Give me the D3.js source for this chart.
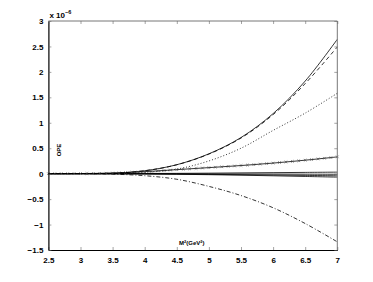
<!DOCTYPE html>
<html lang="en">
<head>
    <meta charset="UTF-8">
    <title>OPE vs M2</title>
    <script src="https://cdn.jsdelivr.net/npm/d3@7/dist/d3.min.js"></script>
    <style>
        body { margin: 0; background: #fff; }
        svg { display: block; font-family: "Liberation Sans", Arial, sans-serif; }
        svg .tick-label { font-size: 8px; font-weight: bold; fill: #000; }
        svg .curve { fill: none; stroke: #000; stroke-width: 0.8px; }
    </style>
</head>
<body>
    <svg width="373" height="282"></svg>
    <script>
        // M^2 grid (GeV^2)
        var m2 = [2.5, 3, 3.5, 4, 4.5, 5, 5.5, 6, 6.5, 7];
        // fine grid for the marked curve
        var m2Fine = d3.range(46).map(function(i) { return 2.5 + i * 0.1; });

        // values in units of 1e-6
        var solidTop   = [0, 0.001, 0.009, 0.058, 0.176, 0.39, 0.71, 1.18, 1.82, 2.64];
        var dashedTop  = [0, 0.001, 0.009, 0.057, 0.175, 0.385, 0.70, 1.16, 1.77, 2.49];
        var dottedMid  = [0, 0.001, 0.005, 0.025, 0.09, 0.25, 0.50, 0.85, 1.19, 1.58];
        var dashDotLow = [0, -0.001, -0.01, -0.04, -0.11, -0.25, -0.43, -0.67, -0.98, -1.34];
        var nearZeroA  = [0, 0, 0.001, 0.003, 0.006, 0.01, 0.015, 0.02, 0.025, 0.03];
        var nearZeroB  = [0, 0, 0, -0.001, -0.002, -0.004, -0.006, -0.008, -0.01, -0.012];
        var nearZeroC  = [0, 0, -0.001, -0.004, -0.008, -0.014, -0.02, -0.027, -0.034, -0.042];
        var nearZeroD  = [0, 0, -0.002, -0.006, -0.012, -0.02, -0.03, -0.042, -0.055, -0.068];
        var markedMid  = [0.000, 0.000, 0.001, 0.001, 0.002, 0.003, 0.004, 0.005, 0.007, 0.009,
                          0.012, 0.016, 0.021, 0.027, 0.033, 0.040, 0.047, 0.055, 0.063, 0.071,
                          0.079, 0.087, 0.095, 0.103, 0.111, 0.119, 0.127, 0.135, 0.143, 0.151,
                          0.160, 0.169, 0.178, 0.188, 0.198, 0.208, 0.219, 0.230, 0.241, 0.253,
                          0.265, 0.277, 0.290, 0.303, 0.316, 0.330];

        var xTicks = [2.5, 3, 3.5, 4, 4.5, 5, 5.5, 6, 6.5, 7];
        var yTicks = [-1.5, -1, -0.5, 0, 0.5, 1, 1.5, 2, 2.5, 3];

        var svg = d3.select('svg'),
            pLeft = 48.4, pRight = 337.3, pTop = 21, pBottom = 250;

        var x = d3.scaleLinear().domain([2.5, 7]).range([pLeft, pRight]),
            y = d3.scaleLinear().domain([-1.5, 3]).range([pBottom, pTop]);

        var line = d3.line()
            .x(function(d) { return x(d[0]); })
            .y(function(d) { return y(d[1]); })
            .curve(d3.curveCatmullRom);

        function pairs(xs, ys) {
            return xs.map(function(v, i) { return [v, ys[i]]; });
        }

        var series = [
            { v: nearZeroA, dash: null, color: '#000', w: 1 },
            { v: nearZeroB, dash: null, color: '#666', w: 1.6 },
            { v: nearZeroC, dash: null, color: '#999', w: 1.4 },
            { v: nearZeroD, dash: null, color: '#000', w: 0.9 },
            { v: solidTop, dash: null, color: '#000', w: 0.9 },
            { v: dashedTop, dash: '4,3', color: '#000', w: 0.9 },
            { v: dottedMid, dash: '1,2', color: '#777', w: 0.9 },
            { v: dashDotLow, dash: '4,2,1,2', color: '#000', w: 0.8 }
        ];

        series.forEach(function(s) {
            svg.append('path')
                .classed('curve', true)
                .attr('d', line(pairs(m2, s.v)))
                .attr('stroke', s.color)
                .attr('stroke-width', s.w)
                .attr('stroke-dasharray', s.dash);
        });

        // line with x markers
        var marked = pairs(m2Fine, markedMid);
        svg.append('path')
            .classed('curve', true)
            .attr('d', line(marked))
            .attr('stroke', '#444')
            .attr('stroke-width', 0.7);

        svg.append('g').selectAll('path')
            .data(marked)
            .enter().append('path')
            .attr('d', function(d) {
                var cx = x(d[0]), cy = y(d[1]), r = 1.3;
                return 'M' + (cx - r) + ',' + (cy - r) + 'L' + (cx + r) + ',' + (cy + r) +
                       'M' + (cx - r) + ',' + (cy + r) + 'L' + (cx + r) + ',' + (cy - r);
            })
            .attr('stroke', '#444')
            .attr('stroke-width', 0.6)
            .attr('fill', 'none');

        // box
        svg.append('line').attr('x1', pLeft).attr('x2', pRight).attr('y1', pTop).attr('y2', pTop)
            .attr('stroke', '#777').attr('stroke-width', 1);
        svg.append('line').attr('x1', pRight).attr('x2', pRight).attr('y1', pTop).attr('y2', pBottom)
            .attr('stroke', '#777').attr('stroke-width', 1);

        // bottom/left axes with inward ticks
        var xAxis = d3.axisBottom(x).tickValues(xTicks).tickSizeInner(-3).tickSizeOuter(0)
            .tickPadding(7).tickFormat(d3.format('~g'));
        var yAxis = d3.axisLeft(y).tickValues(yTicks).tickSizeInner(-3).tickSizeOuter(0)
            .tickPadding(5).tickFormat(function(d) { return d < 0 ? '\u2212' + Math.abs(d) : d; });

        var gx = svg.append('g').attr('transform', 'translate(0,' + pBottom + ')').call(xAxis);
        var gy = svg.append('g').attr('transform', 'translate(' + pLeft + ',0)').call(yAxis);
        [gx, gy].forEach(function(g) {
            g.attr('font-size', null).attr('font-family', null);
            g.select('.domain').attr('stroke', '#000').attr('stroke-width', 1.2);
            g.selectAll('.tick line').attr('stroke', '#666').attr('stroke-width', 0.6);
            g.selectAll('.tick text').classed('tick-label', true);
        });

        // top/right mirror ticks
        var xTop = d3.axisTop(x).tickValues(xTicks).tickSizeInner(-3).tickSizeOuter(0).tickFormat('');
        var yRight = d3.axisRight(y).tickValues(yTicks).tickSizeInner(-3).tickSizeOuter(0).tickFormat('');
        [svg.append('g').attr('transform', 'translate(0,' + pTop + ')').call(xTop),
         svg.append('g').attr('transform', 'translate(' + pRight + ',0)').call(yRight)].forEach(function(g) {
            g.select('.domain').remove();
            g.selectAll('.tick line').attr('stroke', '#666').attr('stroke-width', 0.6);
        });

        // exponent label
        var ex = svg.append('text').attr('x', pLeft + 1).attr('y', pTop - 3)
            .attr('font-size', 8).attr('font-weight', 'bold');
        ex.append('tspan').text('x 10');
        ex.append('tspan').attr('dy', -4).attr('font-size', 5.5).text('\u22126');

        // axis titles
        svg.append('text')
            .attr('transform', 'translate(' + 61 + ',' + 150 + ') rotate(-90)')
            .attr('text-anchor', 'middle')
            .attr('font-size', 6).attr('font-weight', 'bold')
            .text('OPE');

        var xl = svg.append('text').attr('x', 179).attr('y', 245)
            .attr('font-size', 6).attr('font-weight', 'bold');
        xl.append('tspan').text('M');
        xl.append('tspan').attr('dy', -2.5).attr('font-size', 4).text('2');
        xl.append('tspan').attr('dy', 2.5).text('(GeV');
        xl.append('tspan').attr('dy', -2.5).attr('font-size', 4).text('2');
        xl.append('tspan').attr('dy', 2.5).text(')');
    </script>
</body>
</html>
